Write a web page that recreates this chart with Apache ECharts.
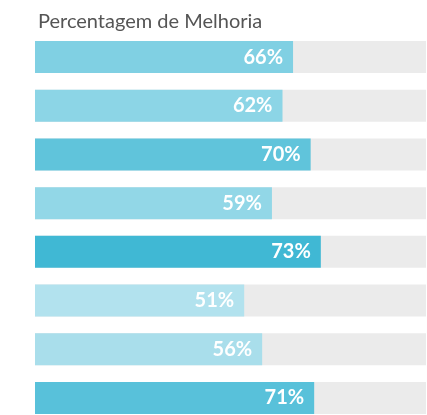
<!DOCTYPE html>
<html>
<head>
<meta charset="utf-8">
<script src="https://cdn.jsdelivr.net/npm/echarts@6/dist/echarts.min.js"></script>
<style>
  html, body { margin: 0; padding: 0; background: #fff; }
  #main { width: 427px; height: 415px; }
</style>
</head>
<body>
<div id="main"></div>
<script>
var categories = ['A', 'B', 'C', 'D', 'E', 'F', 'G', 'H'];
// bar lengths as drawn in the picture (% of the grey track)
var values = [66.0, 63.3, 70.5, 60.6, 73.1, 53.5, 58.1, 71.4];
// the labels printed on the bars
var labels = ['66%', '62%', '70%', '59%', '73%', '51%', '56%', '71%'];
var barColors = ['#80d0e3', '#8cd5e6', '#60c4db', '#92d7e7', '#40b8d4', '#b2e2ee', '#a9deeb', '#58c1da'];

var myChart = echarts.init(document.getElementById('main'));

var option = {
	backgroundColor: '#ffffff',
	animation: false,
	title: {
		text: 'Percentagem de Melhoria',
		left: 33,
		top: 7,
		textStyle: {
			color: '#555555',
			fontFamily: 'Lato',
			fontWeight: 'normal',
			fontSize: 20
		}
	},
	grid: {
		left: 35,
		right: 1,
		top: 32.7,
		height: 389.6,
		outerBoundsMode: 'none'
	},
	xAxis: {
		type: 'value',
		min: 0,
		max: 100,
		show: false
	},
	yAxis: {
		type: 'category',
		data: categories,
		inverse: true,
		show: false
	},
	series: [{
		type: 'bar',
		barWidth: 32,
		data: values.map(function(v, i) {
			return { value: v, itemStyle: { color: barColors[i] } };
		}),
		showBackground: true,
		backgroundStyle: { color: '#ebebeb' },
		label: {
			show: true,
			position: 'insideRight',
			distance: 10,
			formatter: function(p) { return labels[p.dataIndex]; },
			color: '#ffffff',
			fontFamily: 'Lato',
			fontWeight: 'bold',
			fontSize: 20
		}
	}]
};
myChart.setOption(option);
</script>
</body>
</html>
